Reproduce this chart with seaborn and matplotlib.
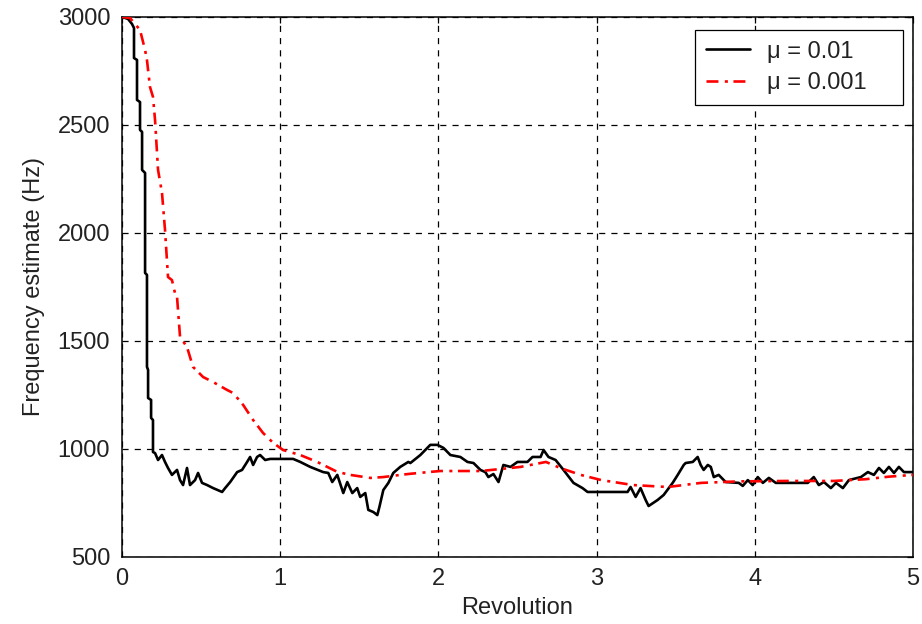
import matplotlib
matplotlib.use("Agg")
import matplotlib.pyplot as plt
import seaborn as sns
import pandas as pd

# Frequency estimate traces versus revolution for two step sizes
rev_fast = [0.000, 0.038, 0.063, 0.076, 0.076, 0.095, 0.095, 0.114, 0.114, 0.127,
            0.127, 0.146, 0.146, 0.158, 0.158, 0.165, 0.165, 0.184, 0.184, 0.196,
            0.196, 0.209, 0.228, 0.253, 0.272, 0.291, 0.316, 0.348, 0.367, 0.386,
            0.411, 0.430, 0.462, 0.481, 0.506, 0.538, 0.576, 0.633, 0.652, 0.684,
            0.728, 0.759, 0.791, 0.810, 0.829, 0.854, 0.873, 0.905, 0.937, 1.082,
            1.127, 1.190, 1.272, 1.304, 1.329, 1.361, 1.399, 1.424, 1.456, 1.487,
            1.506, 1.538, 1.557, 1.589, 1.614, 1.627, 1.652, 1.684, 1.715, 1.759,
            1.810, 1.823, 1.886, 1.949, 1.994, 2.032, 2.076, 2.139, 2.184, 2.222,
            2.266, 2.297, 2.316, 2.348, 2.380, 2.411, 2.456, 2.500, 2.563, 2.595,
            2.646, 2.665, 2.696, 2.741, 2.791, 2.854, 2.911, 2.943, 3.196, 3.215,
            3.247, 3.278, 3.310, 3.329, 3.386, 3.424, 3.481, 3.513, 3.551, 3.563,
            3.608, 3.639, 3.658, 3.677, 3.703, 3.722, 3.741, 3.772, 3.816, 3.899,
            3.924, 3.956, 3.987, 4.019, 4.051, 4.089, 4.133, 4.335, 4.373, 4.405,
            4.437, 4.481, 4.513, 4.557, 4.595, 4.671, 4.715, 4.753, 4.785, 4.816,
            4.848, 4.880, 4.911, 4.943, 5.000]
freq_fast = [3000, 2991, 2968, 2949, 2810, 2801, 2616, 2606, 2477, 2468,
             2292, 2278, 1815, 1806, 1380, 1366, 1236, 1227, 1144, 1134,
             986, 981, 949, 972, 940, 912, 880, 903, 856, 833,
             912, 833, 856, 889, 843, 833, 819, 801, 819, 847,
             893, 903, 940, 963, 926, 963, 972, 949, 954, 954,
             940, 917, 893, 889, 847, 880, 796, 847, 796, 819,
             778, 796, 718, 708, 694, 731, 810, 843, 889, 917,
             940, 935, 972, 1019, 1019, 1005, 972, 963, 940, 935,
             903, 893, 870, 884, 847, 926, 917, 940, 940, 963,
             963, 995, 963, 949, 903, 843, 819, 801, 801, 824,
             778, 819, 764, 736, 764, 787, 843, 880, 926, 935,
             940, 963, 926, 903, 926, 917, 870, 880, 847, 843,
             829, 856, 833, 870, 843, 866, 843, 843, 870, 833,
             847, 819, 843, 819, 856, 870, 893, 880, 912, 889,
             917, 889, 917, 893, 893]

rev_slow = [0.000, 0.051, 0.114, 0.146, 0.158, 0.177, 0.196, 0.209, 0.228, 0.253,
            0.272, 0.291, 0.316, 0.335, 0.348, 0.367, 0.411, 0.449, 0.513, 0.576,
            0.665, 0.703, 0.766, 0.829, 0.892, 0.956, 1.019, 1.127, 1.234, 1.361,
            1.443, 1.570, 1.652, 1.760, 1.820, 2.010, 2.270, 2.520, 2.680, 2.770,
            2.900, 3.030, 3.230, 3.450, 3.660, 3.900, 4.200, 4.500, 4.700, 4.850,
            5.000]
freq_slow = [3000, 2995, 2940, 2847, 2800, 2676, 2630, 2523, 2292, 2185,
             2014, 1796, 1782, 1722, 1704, 1519, 1472, 1380, 1333, 1310,
             1273, 1259, 1204, 1134, 1074, 1028, 995, 972, 940, 894,
             880, 866, 870, 880, 885, 898, 898, 917, 940, 912,
             880, 856, 833, 824, 843, 850, 852, 852, 860, 872,
             880]

series_labels = ["\u03bc = 0.01", "\u03bc = 0.001"]
x_ticks = [0, 1, 2, 3, 4, 5]
y_ticks = [500, 1000, 1500, 2000, 2500, 3000]

sns.set_style("white")
plt.rcParams["font.family"] = ["Liberation Sans", "DejaVu Sans"]
plt.rcParams["lines.scale_dashes"] = False

fig = plt.figure(figsize=(9.22, 6.24), dpi=100)
ax = fig.add_axes([0.1323, 0.1074, 0.8579, 0.8654])

df_fast = pd.DataFrame({"rev": rev_fast, "freq": freq_fast})
df_slow = pd.DataFrame({"rev": rev_slow, "freq": freq_slow})

sns.lineplot(data=df_fast, x="rev", y="freq", ax=ax, color="black",
             linewidth=1.9, sort=False, estimator=None,
             label=series_labels[0], zorder=3)
sns.lineplot(data=df_slow, x="rev", y="freq", ax=ax, color="#ff0000",
             linewidth=1.9, sort=False, estimator=None,
             linestyle=(0, (8.6, 4.6, 2.2, 4.0)),
             label=series_labels[1], zorder=4)

ax.set_xlim(0, 5)
ax.set_ylim(500, 3000)
ax.set_xticks(x_ticks)
ax.set_yticks(y_ticks)
ax.set_xticklabels([str(t) for t in x_ticks])
ax.set_yticklabels([str(t) for t in y_ticks])

ax.grid(True, color="black", linestyle=(0, (4.4, 4.4)), linewidth=0.9)
ax.set_axisbelow(True)

for side in ["left", "right", "top", "bottom"]:
    ax.spines[side].set_visible(True)
    ax.spines[side].set_color("black")
    ax.spines[side].set_linewidth(1.1)

ax.tick_params(axis="both", which="both", direction="in", length=4.5,
               width=0.9, color="black", labelsize=17, labelcolor="#222222",
               top=True, right=True)
ax.tick_params(axis="y", pad=8.5)
ax.tick_params(axis="x", pad=8)

ax.set_xlabel("Revolution", fontsize=17, color="#222222", labelpad=5)
ax.set_ylabel("Frequency estimate (Hz)", fontsize=17, color="#222222", labelpad=9)

leg = ax.legend(loc="upper right", bbox_to_anchor=(0.7244, 0.5, 0.2626, 0.476),
                mode="expand", borderaxespad=0, fontsize=17, frameon=True,
                fancybox=False, handlelength=1.9, handletextpad=0.72,
                labelspacing=0.42, borderpad=0.45)
leg.get_frame().set_edgecolor("black")
leg.get_frame().set_linewidth(0.9)
leg.get_frame().set_alpha(1)
for t in leg.get_texts():
    t.set_color("#222222")

fig.savefig("out.png", dpi=100, facecolor="white")
